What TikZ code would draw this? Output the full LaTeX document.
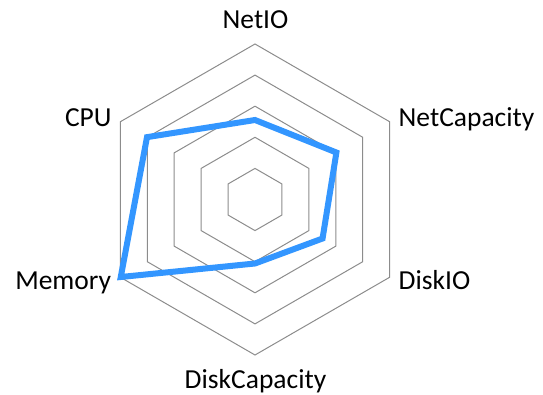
\documentclass[tikz,border=0pt]{standalone}
\usepackage{fontspec}
\setmainfont{Carlito}
\definecolor{gridgray}{RGB}{140,140,140}
\definecolor{datablue}{RGB}{51,150,255}
\begin{document}
\begin{tikzpicture}[x=1pt,y=1pt,
  gridline/.style={draw=gridgray, line width=1pt},
  dataline/.style={draw=datablue, line width=6pt, line join=miter},
  axislabel/.style={anchor=base, inner sep=0pt, font=\fontsize{27.5}{30}\selectfont}]
\useasboundingbox (0,0) rectangle (543,394);
\coordinate (O) at (255,194.5);
\foreach \r in {31.1,62.2,93.3,124.4,155.5}
  \draw[gridline, shift={(O)}] (90:\r) -- (30:\r) -- (-30:\r) -- (-90:\r) -- (-150:\r) -- (150:\r) -- cycle;
\draw[dataline, shift={(O)}] (90:79.5) -- (30:94) -- (-30:78) -- (-90:64) -- (-150:155) -- (150:124.7) -- cycle;
\node[axislabel] (netio) at (255.5,365.7) {NetIO};
\node[axislabel] (netcap) at (466.5,267.3) {NetCapacity};
\node[axislabel] (diskio) at (434.5,104.2) {DiskIO};
\node[axislabel] (diskcap) at (255.5,5.7) {DiskCapacity};
\node[axislabel] (memory) at (63.2,104.7) {Memory};
\node[axislabel] (cpu) at (88.3,267.3) {CPU};
\end{tikzpicture}
\end{document}
